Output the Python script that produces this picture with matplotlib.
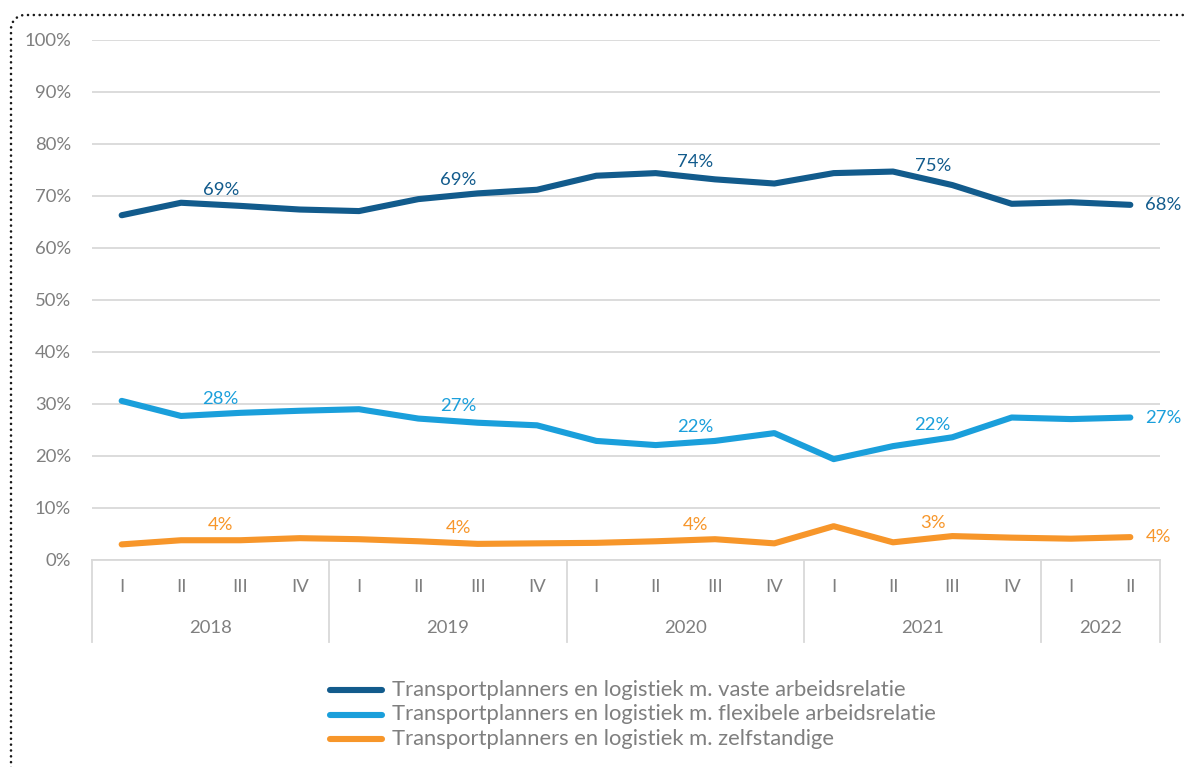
import numpy as np
import matplotlib.pyplot as plt
from matplotlib.lines import Line2D
from matplotlib.transforms import blended_transform_factory

plt.rcParams['font.family'] = ['Lato', 'DejaVu Sans']

# DATA (percentages per quarter)
quarters = ["I", "II", "III", "IV"] * 4 + ["I", "II"]
years = ["2018", "2019", "2020", "2021", "2022"]
year_sizes = [4, 4, 4, 4, 2]

vast = [66.3, 68.7, 68.1, 67.4, 67.1, 69.4, 70.5, 71.2, 73.9, 74.4,
        73.2, 72.4, 74.4, 74.7, 72.1, 68.5, 68.8, 68.3]
flex = [30.6, 27.7, 28.3, 28.7, 29.0, 27.2, 26.4, 25.9, 22.9, 22.1,
        22.9, 24.4, 19.4, 21.9, 23.6, 27.4, 27.1, 27.4]
zelf = [3.0, 3.8, 3.8, 4.2, 4.0, 3.6, 3.1, 3.2, 3.3, 3.6,
        4.0, 3.2, 6.5, 3.4, 4.6, 4.3, 4.1, 4.4]

names = ["Transportplanners en logistiek m. vaste arbeidsrelatie",
         "Transportplanners en logistiek m. flexibele arbeidsrelatie",
         "Transportplanners en logistiek m. zelfstandige"]
colors = ["#125b8c", "#1a9fdb", "#f7962a"]
series = [vast, flex, zelf]

# label the II quarter of every year, plus the last point
label_idx = [1, 5, 9, 13]

W, H = 1185, 767
fig = plt.figure(figsize=(W / 100, H / 100), dpi=100)
ax = fig.add_axes([92 / W, 1 - 560 / H, (1160 - 92) / W, 520 / H])

grey = "#d9d9d9"
text_grey = "#7f7f7f"
fs = 13.3
x = np.arange(len(quarters))

for vals, col in zip(series, colors):
    ax.plot(x, vals, color=col, lw=4.4, solid_capstyle='round',
            solid_joinstyle='round', zorder=3)
    for i in label_idx:
        lx = i + 0.67
        ly = np.interp(lx, x, vals)
        ax.annotate(f"{round(vals[i])}%", xy=(lx, ly), xytext=(0, 15),
                    textcoords='offset pixels', ha='center', va='center',
                    color=col, fontsize=fs, zorder=4)
    ax.annotate(f"{round(vals[-1])}%", xy=(x[-1], vals[-1]), xytext=(15, 0),
                textcoords='offset pixels', ha='left', va='center',
                color=col, fontsize=fs, annotation_clip=False)

ax.set_xlim(-0.5, len(quarters) - 0.5)
ax.set_ylim(0, 100)
ax.set_yticks(np.arange(0, 101, 10))
ax.set_yticklabels([f"{v}%" for v in range(0, 101, 10)])
ax.tick_params(axis='y', length=0, pad=15, labelsize=fs, labelcolor=text_grey)
ax.set_xticks([])
ax.grid(axis='y', color=grey, lw=1.3)
ax.set_axisbelow(True)
for s in ['top', 'right', 'left']:
    ax.spines[s].set_visible(False)
ax.spines['bottom'].set_color(grey)
ax.spines['bottom'].set_linewidth(1.3)

# two-level category axis
trans = blended_transform_factory(ax.transData, ax.transAxes)
for i, q in enumerate(quarters):
    ax.text(i, -27 / 520, q, transform=trans, ha='center', va='center',
            color=text_grey, fontsize=fs)
edges = np.concatenate([[0], np.cumsum(year_sizes)]) - 0.5
for e in edges:
    ax.plot([e, e], [0, -82 / 520], transform=trans, color=grey, lw=1.3,
            clip_on=False)
for yr, a, b in zip(years, edges[:-1], edges[1:]):
    ax.text((a + b) / 2, -68 / 520, yr, transform=trans, ha='center',
            va='center', color=text_grey, fontsize=fs)

# legend
for k, (name, col) in enumerate(zip(names, colors)):
    yy = 1 - (690 + 24.5 * k) / H
    fig.add_artist(Line2D([330 / W, 382 / W], [yy, yy], color=col, lw=4.4,
                          solid_capstyle='round', transform=fig.transFigure))
    fig.text(392 / W, yy, name, ha='left', va='center', color=text_grey,
             fontsize=15.8)

# dotted frame with rounded top-left corner
r = 14
ang = np.linspace(np.pi, 1.5 * np.pi, 20)
cx, cy = 11 + r, 15 + r
px = np.concatenate([[11], cx + r * np.cos(ang), [W + 5]])
py = np.concatenate([[H + 5], cy + r * np.sin(ang), [15]])
fig.add_artist(Line2D(px / W, 1 - py / H, color="#1a1a1a", lw=1.9,
                      linestyle=(0, (0.01, 2.2)), dash_capstyle='round',
                      transform=fig.transFigure))

fig.savefig("out.png", dpi=100)
